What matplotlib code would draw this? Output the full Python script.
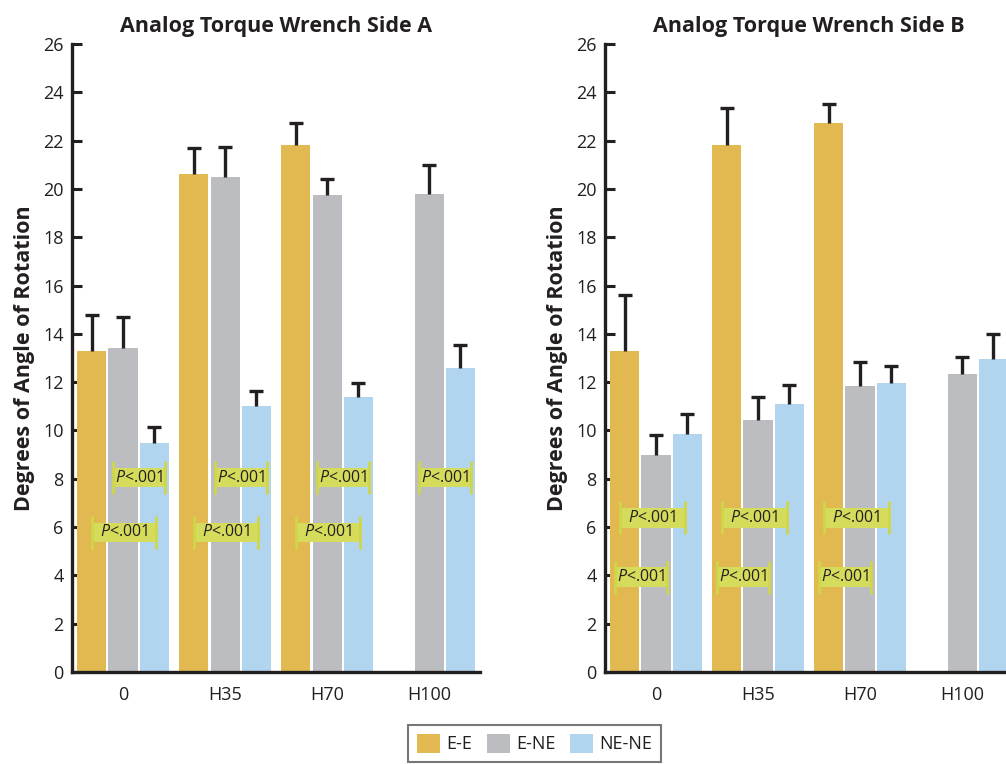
import numpy as np
import matplotlib
matplotlib.use('Agg')
import matplotlib.pyplot as plt
from matplotlib.patches import Rectangle, Patch

plt.rcParams['font.family'] = ['Open Sans', 'DejaVu Sans']
plt.rcParams['mathtext.fontset'] = 'custom'
plt.rcParams['mathtext.it'] = 'Open Sans:italic'
plt.rcParams['mathtext.rm'] = 'Open Sans'

INK = '#231f20'

groups = ['0', 'H35', 'H70', 'H100']
series = ['E-E', 'E-NE', 'NE-NE']
colors = ['#e2b951', '#bcbdc0', '#b1d4ef']

# mean angle and top of the error bar, per side
sideA_mean = {'E-E': [13.3, 20.6, 21.8, np.nan],
              'E-NE': [13.4, 20.5, 19.75, 19.8],
              'NE-NE': [9.5, 11.0, 11.4, 12.6]}
sideA_top = {'E-E': [14.8, 21.7, 22.75, np.nan],
             'E-NE': [14.7, 21.75, 20.4, 21.0],
             'NE-NE': [10.15, 11.65, 11.95, 13.55]}
sideB_mean = {'E-E': [13.3, 21.8, 22.75, np.nan],
              'E-NE': [9.0, 10.45, 11.85, 12.35],
              'NE-NE': [9.85, 11.1, 11.95, 12.95]}
sideB_top = {'E-E': [15.6, 23.35, 23.5, np.nan],
             'E-NE': [9.8, 11.4, 12.85, 13.05],
             'NE-NE': [10.7, 11.9, 12.65, 14.0]}

p_label = r'$\mathit{P}$<.001'
# significance tags: (group indices, level)
sideA_tags = [([0, 1, 2, 3], 8.05), ([0, 1, 2], 5.78)]
sideB_tags = [([0, 1, 2], 6.38), ([0, 1, 2], 3.93)]

step = 0.305
width = 0.285


def draw_side(ax, title, mean, top, tags, tag_layout):
    x = np.arange(len(groups))
    for i, s in enumerate(series):
        pos = x + (i - 1) * step
        m = np.array(mean[s])
        t = np.array(top[s])
        ok = ~np.isnan(m)
        ax.bar(pos[ok], m[ok], width, color=colors[i], zorder=2)
        # upper whisker only, capped at the top
        ax.vlines(pos[ok], m[ok], t[ok], color=INK, lw=2.4, zorder=3)
        ax.plot(pos[ok], t[ok], ls='none', marker='_', ms=10, mew=2.4,
                color=INK, zorder=3)
    for (idx, level), (off, w) in zip(tags, tag_layout):
        for g in idx:
            cx = g + off
            ax.add_patch(Rectangle((cx - w / 2, level - 0.4), w, 0.8,
                                   facecolor='#d5dc5b', edgecolor='none',
                                   zorder=4))
            ax.vlines([cx - w / 2, cx + w / 2], level - 0.68, level + 0.68,
                      color='#cfd64a', lw=2, zorder=4)
            ax.text(cx, level, p_label, ha='center', va='center',
                    fontsize=11.5, color=INK, zorder=5)
    ax.set_xlim(-0.5, 3.5)
    ax.set_ylim(0, 26)
    ax.set_yticks(range(0, 27, 2))
    ax.set_xticks(x)
    ax.set_xticklabels(groups)
    ax.tick_params(axis='y', direction='in', length=7, width=2.2,
                   labelsize=13, colors=INK, pad=6)
    ax.tick_params(axis='x', length=0, labelsize=13, colors=INK, pad=10)
    for sp in ['top', 'right']:
        ax.spines[sp].set_visible(False)
    for sp in ['left', 'bottom']:
        ax.spines[sp].set_linewidth(2.4)
        ax.spines[sp].set_color(INK)
        ax.spines[sp].set_zorder(6)
    ax.set_title(title, fontsize=15.5, fontweight='bold', color=INK, pad=9)
    ax.set_ylabel('Degrees of Angle of Rotation', fontsize=15.5,
                  fontweight='bold', color=INK, labelpad=6)


fig = plt.figure(figsize=(10.06, 7.64), dpi=100)
axA = fig.add_axes([0.0716, 0.1204, 0.4056, 0.822])
axB = fig.add_axes([0.6014, 0.1204, 0.4056, 0.822])

draw_side(axA, 'Analog Torque Wrench Side A', sideA_mean, sideA_top,
          sideA_tags, [(0.155, 0.51), (0.0075, 0.63)])
draw_side(axB, 'Analog Torque Wrench Side B', sideB_mean, sideB_top,
          sideB_tags, [(-0.035, 0.63), (-0.145, 0.51)])

handles = [Patch(facecolor=c, edgecolor='none') for c in colors]
leg = fig.legend(handles, series, loc='upper left',
                 bbox_to_anchor=(0.4056, 0.051), ncol=3, fontsize=13,
                 frameon=True, fancybox=False, edgecolor='#555555',
                 handlelength=1.28, handleheight=1.2, columnspacing=0.8,
                 handletextpad=0.35, borderpad=0.5, borderaxespad=0)
leg.get_frame().set_linewidth(1.5)
for t in leg.get_texts():
    t.set_color(INK)

fig.savefig('out.png', dpi=100)
